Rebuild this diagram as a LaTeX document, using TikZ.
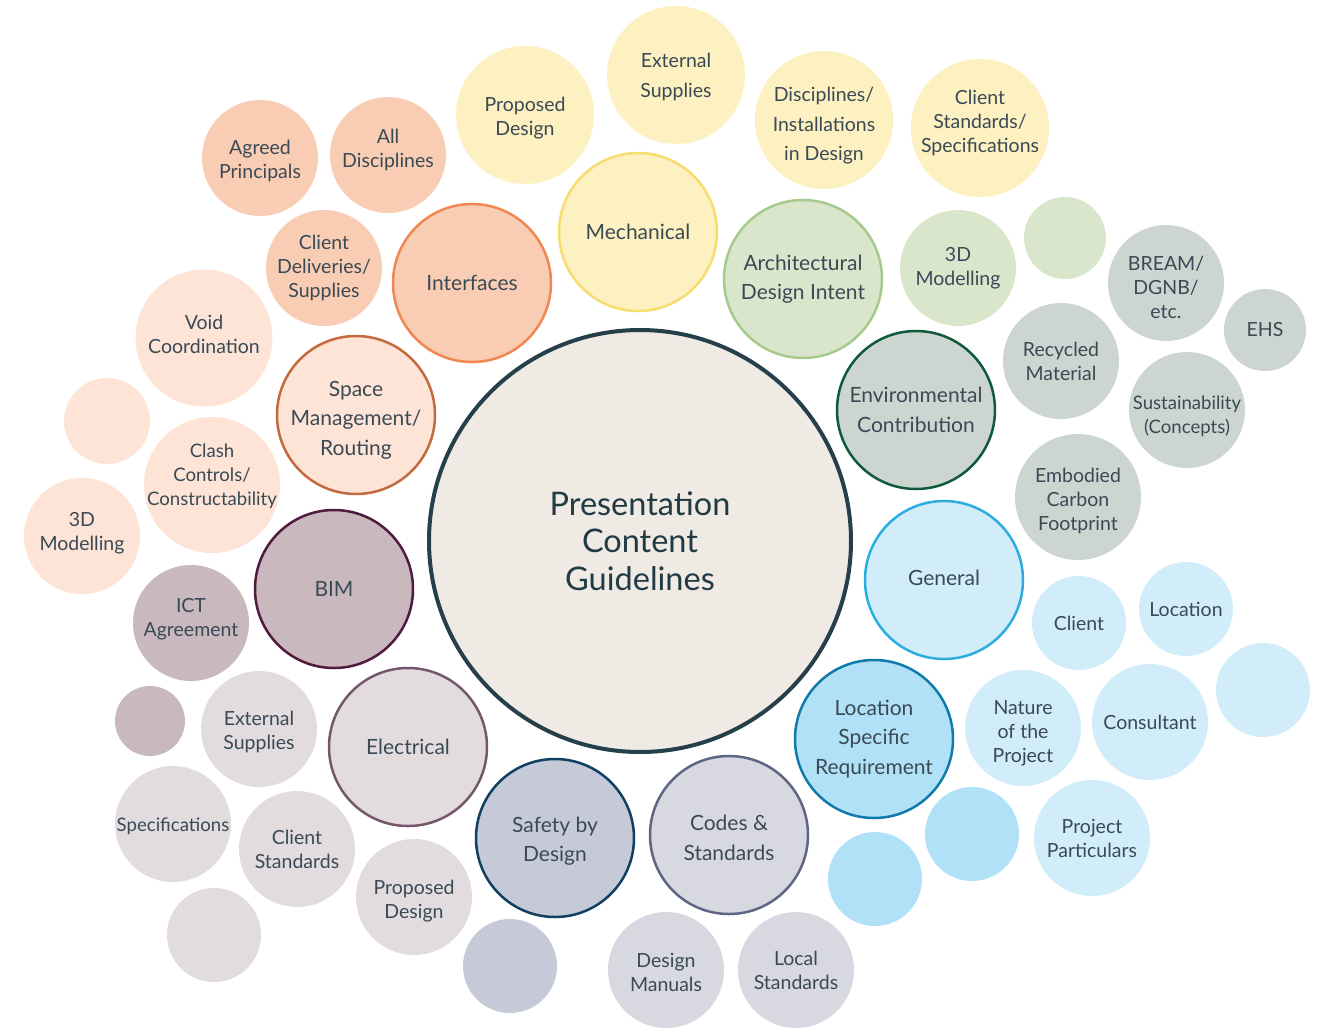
\documentclass[tikz,border=0pt]{standalone}
\usepackage{fontspec}
\setmainfont{Lato}
\definecolor{txt}{HTML}{3A4A55}
\definecolor{ctrfill}{HTML}{EFEBE4}
\definecolor{ctrline}{HTML}{25404A}
\definecolor{orD}{HTML}{F9CDB3}
\definecolor{orL}{HTML}{F08650}
\definecolor{peF}{HTML}{FDE4D7}
\definecolor{peL}{HTML}{C36A3E}
\definecolor{yeF}{HTML}{FDF0C1}
\definecolor{yeL}{HTML}{F8DC6E}
\definecolor{grF}{HTML}{DAE6CC}
\definecolor{grL}{HTML}{A6C98C}
\definecolor{enF}{HTML}{CCD5D0}
\definecolor{enL}{HTML}{0E5A3B}
\definecolor{lbF}{HTML}{D2EDFA}
\definecolor{lbL}{HTML}{2BADE0}
\definecolor{mbF}{HTML}{B1E1F7}
\definecolor{mbL}{HTML}{107BAB}
\definecolor{coF}{HTML}{D8D8E0}
\definecolor{coL}{HTML}{5E6585}
\definecolor{saF}{HTML}{C6C9D7}
\definecolor{saL}{HTML}{103F62}
\definecolor{elF}{HTML}{E2DCDF}
\definecolor{elL}{HTML}{76586C}
\definecolor{biF}{HTML}{C9B8BD}
\definecolor{biL}{HTML}{4F1B3E}
\tikzset{
  disc/.style={circle, inner sep=0pt, outer sep=0pt},
  mainc/.style={disc, line width=2.5pt, minimum size=158pt},
  lbl/.style={align=center, text=txt, inner sep=0pt, font=\fontsize{19.5}{24}\selectfont},
  lblnarrow/.style={lbl, font=\fontsize{18.6}{24}\selectfont},
  lblwide/.style={lbl, font=\fontsize{19.5}{29.5}\selectfont},
  lblmain/.style={lbl, font=\fontsize{21}{29.5}\selectfont},
}
\newcommand{\bubble}[6][lbl]{%
  \node[#5, minimum size=#4] (#2) at (#3) {};
  \node[#1] (#2-t) at (#2) {#6};
}
\begin{document}
\begin{tikzpicture}[x=1pt,y=-1pt]
\useasboundingbox (0,0) rectangle (1331,1029);
% centre
\node[disc, fill=ctrfill, draw=ctrline, line width=4pt, minimum size=422pt] (c) at (640,541) {};
\node[lbl, text=ctrline!90!black, font=\fontsize{32.5}{37.5}\selectfont] (c-t) at (c) {Presentation\\Content\\Guidelines};
% main ring
\bubble[lblmain]{interfaces}{472,283}{158pt}{mainc, fill=orD, draw=orL}{Interfaces}
\bubble[lblmain]{mech}{638,232}{158pt}{mainc, fill=yeF, draw=yeL}{Mechanical}
\bubble[lblmain]{arch}{803,279}{158pt}{mainc, fill=grF, draw=grL}{Architectural\\Design Intent}
\bubble[lblmain]{env}{916,410}{158pt}{mainc, fill=enF, draw=enL}{Environmental\\Contribution}
\bubble[lblmain, yshift=2pt]{gen}{944,580}{158pt}{mainc, fill=lbF, draw=lbL}{General}
\bubble[lblmain]{lsr}{874,739}{158pt}{mainc, fill=mbF, draw=mbL}{Location\\Specific\\Requirement}
\bubble[lblmain, yshift=-3pt]{codes}{729,835}{158pt}{mainc, fill=coF, draw=coL}{Codes \&\\Standards}
\bubble[lblmain, yshift=-3pt]{safety}{555,838}{158pt}{mainc, fill=saF, draw=saL}{Safety by\\Design}
\bubble[lblmain]{elec}{408,747}{158pt}{mainc, fill=elF, draw=elL}{Electrical}
\bubble[lblmain]{bim}{334,589}{158pt}{mainc, fill=biF, draw=biL}{BIM}
\bubble[lblmain, yshift=-5pt]{space}{356,415}{158pt}{mainc, fill=peF, draw=peL}{Space\\Management/\\Routing}
% interfaces group
\bubble[lbl, yshift=-3pt]{agreed}{260,158}{116pt}{disc, fill=orD}{Agreed\\Principals}
\bubble[lbl, yshift=5pt]{alldisc}{388,155}{116pt}{disc, fill=orD}{All\\Disciplines}
\bubble{clideliv}{324,268}{116pt}{disc, fill=orD}{Client\\Deliveries/\\Supplies}
% space group
\bubble[lbl, yshift=4pt]{void}{204,338}{137pt}{disc, fill=peF}{Void\\Coordination}
\node[disc, fill=peF, minimum size=86pt] (pe-empty) at (107,421) {};
\bubble[lblnarrow, yshift=9pt]{clash}{212,485}{136pt}{disc, fill=peF}{Clash\\Controls/\\Constructability}
\bubble[lbl, yshift=3pt]{model3dA}{82,536}{116pt}{disc, fill=peF}{3D\\Modelling}
% BIM group
\bubble[lbl, yshift=4pt]{ict}{191,623}{116pt}{disc, fill=biF}{ICT\\Agreement}
\node[disc, fill=biF, minimum size=70pt] (bi-empty) at (150,721) {};
% electrical group
\bubble[lbl, yshift=-3pt]{extsupE}{259,729}{116pt}{disc, fill=elF}{External\\Supplies}
\bubble[lblnarrow, yshift=-2pt]{specs}{173,824}{116pt}{disc, fill=elF}{Specifications}
\bubble{clistd}{297,849}{116pt}{disc, fill=elF}{Client\\Standards}
\node[disc, fill=elF, minimum size=94pt] (el-empty) at (214,935) {};
\bubble[lbl, yshift=-4pt]{propE}{414,897}{116pt}{disc, fill=elF}{Proposed\\Design}
% safety group
\node[disc, fill=saF, minimum size=94pt] (sa-empty) at (510,966) {};
% codes group
\bubble[lbl, yshift=-2pt]{manuals}{666,970}{116pt}{disc, fill=coF}{Design\\Manuals}
\bubble{localstd}{796,970}{116pt}{disc, fill=coF}{Local\\Standards}
% LSR group
\node[disc, fill=mbF, minimum size=94pt] (mb-emptyA) at (875,879) {};
\node[disc, fill=mbF, minimum size=94pt] (mb-emptyB) at (972,834) {};
% general group
\bubble[lbl, yshift=-5pt]{nature}{1023,728}{116pt}{disc, fill=lbF}{Nature\\of the\\Project}
\bubble{consult}{1150,722}{116pt}{disc, fill=lbF}{Consultant}
\bubble{particulars}{1092,838}{116pt}{disc, fill=lbF}{Project\\Particulars}
\bubble{client}{1079,623}{94pt}{disc, fill=lbF}{Client}
\bubble{location}{1186,609}{94pt}{disc, fill=lbF}{Location}
\node[disc, fill=lbF, minimum size=94pt] (lb-empty) at (1263,690) {};
% environmental group
\bubble{recycled}{1061,361}{116pt}{disc, fill=enF}{Recycled\\Material}
\bubble[lbl, yshift=-4pt]{bream}{1166,283}{116pt}{disc, fill=enF}{BREAM/\\DGNB/\\etc.}
\bubble{ehs}{1265,330}{82pt}{disc, fill=enF}{EHS}
\bubble[lblnarrow, yshift=-6pt]{sustain}{1187,410}{116pt}{disc, fill=enF}{Sustainability\\(Concepts)}
\bubble[lbl, yshift=-4pt]{embodied}{1078,497}{126pt}{disc, fill=enF}{Embodied\\Carbon\\Footprint}
% architectural group
\bubble{model3dB}{958,268}{116pt}{disc, fill=grF}{3D\\Modelling}
\node[disc, fill=grF, minimum size=82pt] (gr-empty) at (1065,238) {};
% mechanical group
\bubble[lbl, yshift=-3pt]{propM}{525,115}{138pt}{disc, fill=yeF}{Proposed\\Design}
\bubble[lblwide, yshift=-2pt]{extsupM}{676,75}{138pt}{disc, fill=yeF}{External\\Supplies}
\bubble[lblwide, yshift=-6pt]{discinst}{824,120}{138pt}{disc, fill=yeF}{Disciplines/\\Installations\\in Design}
\bubble[lbl, yshift=5pt]{clistdspec}{980,128}{138pt}{disc, fill=yeF}{Client\\Standards/\\Specifications}
\end{tikzpicture}
\end{document}
